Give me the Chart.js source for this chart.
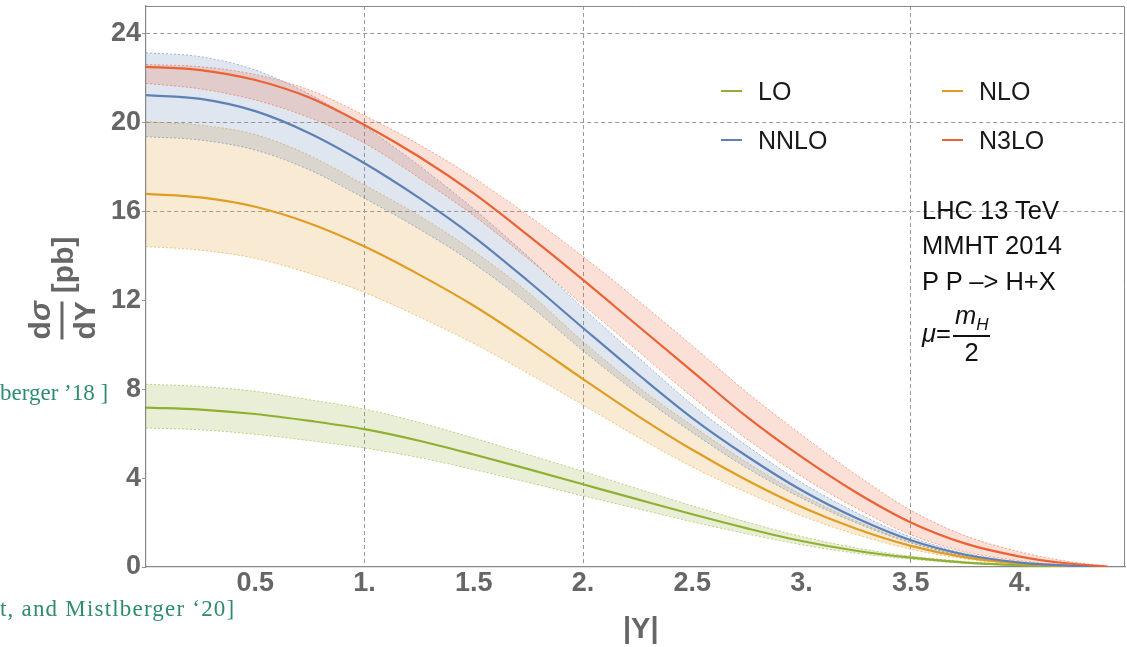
<!DOCTYPE html>
<html>
<head>
<meta charset="utf-8">
<script src="https://cdn.jsdelivr.net/npm/chart.js@4.4.1/dist/chart.umd.min.js"></script>
<style>
  body { margin: 0; background: #fff; }
  #wrap { position: relative; width: 1127px; height: 647px; overflow: hidden; font-family: 'Liberation Sans', Arial, sans-serif; }
  #c { position: absolute; left: 0; top: 0; }
  .t { position: absolute; white-space: nowrap; line-height: 1; }
  .leg { font-size: 25px; color: #1a1a1a; }
  .sw { position: absolute; width: 21px; height: 2px; }
  .info { font-size: 25.5px; color: #111; left: 922px; }
  .cite { font-family: 'Liberation Serif', 'DejaVu Serif', serif; font-size: 23px; color: #2e8b6e; }
  .ax { font-weight: bold; color: #666; }
  .frac { display: inline-flex; flex-direction: column; align-items: center; vertical-align: middle; }
  .bar { align-self: stretch; height: 2px; background: currentColor; }
</style>
</head>
<body>
<div id="wrap">
  <canvas id="c" width="1127" height="647"></canvas>

  <!-- legend -->
  <div class="sw" style="left:721px;top:90px;background:#8fb032"></div>
  <div class="t leg" style="left:758px;top:79px">LO</div>
  <div class="sw" style="left:942px;top:90px;background:#e19c24"></div>
  <div class="t leg" style="left:979px;top:79px">NLO</div>
  <div class="sw" style="left:721px;top:139px;background:#5e81b5"></div>
  <div class="t leg" style="left:758px;top:128px">NNLO</div>
  <div class="sw" style="left:942px;top:139px;background:#eb6235"></div>
  <div class="t leg" style="left:979px;top:128px">N3LO</div>

  <!-- run info -->
  <div class="t info" style="top:198px">LHC 13 TeV</div>
  <div class="t info" style="top:233px">MMHT 2014</div>
  <div class="t info" style="top:269px">P P –&gt; H+X</div>
  <div class="t info" style="top:303px;display:flex;align-items:center">
    <i>μ</i>=<span class="frac" style="margin-left:2px"><span style="padding:0 2px 2px"><i>m</i><sub style="font-size:17px"><i>H</i></sub></span><span class="bar" style="height:1.5px"></span><span style="padding-top:3px">2</span></span>
  </div>

  <!-- axis titles -->
  <div class="t ax" style="left:62px;top:288px;font-size:30px;transform:translate(-50%,-50%) rotate(-90deg);display:flex;align-items:center">
    <span class="frac"><span style="padding-bottom:6px">d<i>σ</i></span><span class="bar" style="height:3px"></span><span style="padding-top:6px">dY</span></span><span style="margin-left:8px">[pb]</span>
  </div>
  <div class="t ax" style="left:623px;top:614px;font-size:29px">|Y|</div>

  <!-- cut-off citations -->
  <div class="t cite" style="left:0px;top:381px">berger ’18 ]</div>
  <div class="t cite" style="left:0px;top:597px;letter-spacing:1.2px">t, and Mistlberger ‘20]</div>
</div>

<script>
// rapidity grid
const xVals = [0, 0.25, 0.5, 0.75, 1, 1.25, 1.5, 1.75, 2, 2.25, 2.5, 2.75, 3, 3.25, 3.5, 3.75, 4, 4.2, 4.4];

// LO
const loMid = [7.17, 7.08, 6.88, 6.57, 6.2, 5.68, 5.06, 4.4, 3.72, 3.04, 2.37, 1.74, 1.17, 0.73, 0.42, 0.2, 0.08, 0.03, 0];
const loHi  = [8.22, 8.12, 7.9, 7.52, 7.1, 6.5, 5.8, 5.05, 4.3, 3.52, 2.75, 2.02, 1.37, 0.86, 0.49, 0.24, 0.1, 0.04, 0];
const loLo  = [6.25, 6.17, 5.97, 5.68, 5.35, 4.92, 4.38, 3.8, 3.2, 2.62, 2.03, 1.49, 1.0, 0.62, 0.35, 0.17, 0.07, 0.02, 0];

// NLO
const nloMid = [16.78, 16.62, 16.2, 15.45, 14.41, 13.15, 11.75, 10.15, 8.45, 6.8, 5.27, 3.9, 2.7, 1.72, 0.95, 0.43, 0.15, 0.05, 0];
const nloHi  = [20.03, 19.87, 19.45, 18.5, 17.18, 15.8, 14.2, 12.35, 10.14, 8.12, 6.35, 4.7, 3.25, 2.07, 1.12, 0.5, 0.18, 0.06, 0];
const nloLo  = [14.41, 14.25, 13.88, 13.2, 12.35, 11.25, 10.05, 8.7, 7.29, 5.85, 4.5, 3.35, 2.3, 1.46, 0.8, 0.36, 0.13, 0.04, 0];

// NNLO
const nnloMid = [21.22, 21.05, 20.5, 19.5, 18.16, 16.6, 14.85, 12.85, 10.75, 8.68, 6.7, 4.98, 3.45, 2.2, 1.2, 0.55, 0.2, 0.07, 0];
const nnloHi  = [23.13, 22.95, 22.35, 21.25, 19.8, 18.05, 16.1, 13.95, 11.64, 9.45, 7.3, 5.45, 3.8, 2.45, 1.35, 0.62, 0.23, 0.08, 0];
const nnloLo  = [19.35, 19.2, 18.75, 17.85, 16.58, 15.2, 13.65, 11.8, 9.72, 7.8, 6.05, 4.45, 3.1, 1.98, 1.08, 0.48, 0.17, 0.06, 0];

// N3LO
const n3loMid = [22.49, 22.35, 21.9, 21.1, 19.88, 18.45, 16.8, 14.9, 12.91, 10.85, 8.8, 6.75, 4.95, 3.35, 2.0, 1.05, 0.47, 0.18, 0.02];
const n3loHi  = [22.6, 22.5, 22.15, 21.45, 20.3, 19.0, 17.5, 15.8, 13.96, 12.0, 9.95, 7.85, 5.95, 4.15, 2.55, 1.4, 0.68, 0.28, 0.03];
const n3loLo  = [21.75, 21.5, 21.0, 20.2, 19.06, 17.5, 15.8, 13.85, 11.79, 9.72, 7.65, 5.75, 4.07, 2.65, 1.45, 0.68, 0.28, 0.1, 0.01];

const xTicks = [0.5, 1, 1.5, 2, 2.5, 3, 3.5, 4];
const xTickLabels = ['0.5', '1.', '1.5', '2.', '2.5', '3.', '3.5', '4.'];
const yTicks = [0, 4, 8, 12, 16, 20, 24];
const xGrid = [1, 2, 3.5];
const yGrid = [16, 20, 24];

const pts = ys => xVals.map((x, i) => ({x: x, y: ys[i]}));

const series = [
  { name: 'N3LO', col: '235,98,53',  mid: n3loMid, hi: n3loHi, lo: n3loLo },
  { name: 'NNLO', col: '94,129,181', mid: nnloMid, hi: nnloHi, lo: nnloLo },
  { name: 'NLO',  col: '225,156,36', mid: nloMid,  hi: nloHi,  lo: nloLo },
  { name: 'LO',   col: '143,176,50', mid: loMid,   hi: loHi,   lo: loLo },
];

const datasets = [];
// central lines on top
series.forEach(s => {
  datasets.push({ label: s.name, data: pts(s.mid), borderColor: `rgb(${s.col})`, borderWidth: 2.2,
    pointRadius: 0, fill: false, cubicInterpolationMode: 'monotone', order: 0 });
});
// scale-variation bands (upper fills down to the following lower edge)
series.forEach(s => {
  datasets.push({ label: s.name + ' hi', data: pts(s.hi), borderColor: `rgba(${s.col},0.7)`, borderWidth: 0.8,
    borderDash: [2, 2], pointRadius: 0, fill: '+1', backgroundColor: `rgba(${s.col},0.2)`,
    cubicInterpolationMode: 'monotone', order: 1 });
  datasets.push({ label: s.name + ' lo', data: pts(s.lo), borderColor: `rgba(${s.col},0.7)`, borderWidth: 0.8,
    borderDash: [2, 2], pointRadius: 0, fill: false, cubicInterpolationMode: 'monotone', order: 1 });
});

// top + right edges of the frame
const frame = {
  id: 'frame',
  afterDraw(chart) {
    const {ctx, chartArea: a} = chart;
    ctx.save();
    ctx.strokeStyle = '#888';
    ctx.lineWidth = 1;
    ctx.beginPath();
    ctx.moveTo(a.left, a.top + 0.5);
    ctx.lineTo(a.right - 0.5, a.top + 0.5);
    ctx.lineTo(a.right - 0.5, a.bottom);
    ctx.stroke();
    ctx.restore();
  }
};

const tickFont = { family: "'Liberation Sans', Arial, sans-serif", size: 27, weight: 'bold' };

new Chart(document.getElementById('c').getContext('2d'), {
  type: 'line',
  data: { datasets },
  options: {
    responsive: false, animation: false, devicePixelRatio: 1,
    layout: { padding: { top: 6, right: 2, left: 0, bottom: 0 } },
    plugins: { legend: { display: false }, tooltip: { enabled: false } },
    scales: {
      x: {
        type: 'linear', min: 0, max: 4.48,
        afterBuildTicks: s => { s.ticks = xTicks.map(v => ({value: v})); },
        afterFit: s => { s.height = 80; s.paddingLeft = 0; s.paddingRight = 0; },
        ticks: { color: '#666', font: tickFont, padding: 0, maxRotation: 0,
          callback: v => xTickLabels[xTicks.indexOf(v)] },
        grid: { color: c => xGrid.includes(c.tick && c.tick.value) ? '#999' : 'rgba(0,0,0,0)',
          lineWidth: 1, drawTicks: false },
        border: { color: '#888', width: 1.2, dash: [4, 3] },
      },
      y: {
        min: 0, max: 25.23,
        afterBuildTicks: s => { s.ticks = yTicks.map(v => ({value: v})); },
        afterFit: s => { s.width = 146; s.paddingTop = 0; s.paddingBottom = 0; },
        ticks: { color: '#666', font: tickFont, padding: 1 },
        grid: { color: c => yGrid.includes(c.tick && c.tick.value) ? '#999' : 'rgba(0,0,0,0)',
          lineWidth: 1, drawTicks: true, tickLength: 4, tickColor: '#999', tickBorderDash: [] },
        border: { color: '#888', width: 1.2, dash: [4, 3] },
      },
    },
  },
  plugins: [frame],
});
</script>
</body>
</html>
